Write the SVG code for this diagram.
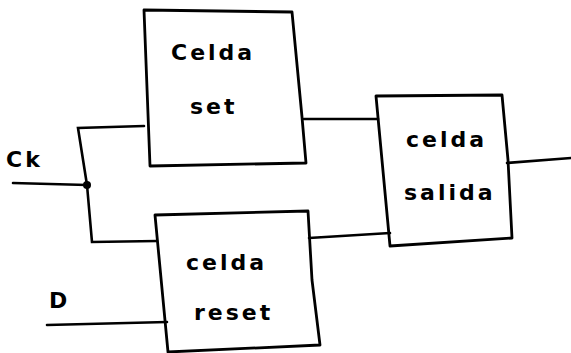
<svg xmlns="http://www.w3.org/2000/svg" width="571" height="353" viewBox="0 0 571 353">
  <style>
    .box { fill: none; stroke: #000; stroke-width: 2.8; stroke-linejoin: round; stroke-linecap: round; }
    .wire { fill: none; stroke: #000; stroke-width: 2.6; stroke-linecap: round; }
    .lbl { font-family: "DejaVu Sans", "Liberation Sans", sans-serif; font-size: 22px; font-weight: bold; fill: #000; letter-spacing: 3px; }
  </style>
  <rect width="571" height="353" fill="#fff"/>

  <g id="connectors">
    <!-- Ck input to the branch point -->
    <path class="wire" d="M13 183 L87 185"/>
    <circle cx="87" cy="185" r="4" fill="#000"/>
    <!-- branch up to celda set -->
    <path class="wire" d="M87 185 L78 128 L144 126"/>
    <!-- branch down to celda reset -->
    <path class="wire" d="M87 185 L92 242 L157 241"/>
    <!-- D input -->
    <path class="wire" d="M47 325 L167 322"/>
    <!-- set output to salida -->
    <path class="wire" d="M304 119 L378 119"/>
    <!-- reset output to salida -->
    <path class="wire" d="M309 238 L390 233"/>
    <!-- salida output -->
    <path class="wire" d="M507 163 L571 158"/>
  </g>

  <g id="celda-set">
    <path class="box" d="M144 10 L292 12 L302 117 L306 163 L150 166 Z"/>
    <text class="lbl" x="171" y="60">Celda</text>
    <text class="lbl" x="190" y="114">set</text>
  </g>

  <g id="celda-reset">
    <path class="box" d="M155 215 L308 211 L312 280 L320 345 L168 352 Z"/>
    <text class="lbl" x="186" y="270">celda</text>
    <text class="lbl" x="194" y="320">reset</text>
  </g>

  <g id="celda-salida">
    <path class="box" d="M376 96 L502 95 L508 160 L512 238 L390 246 Z"/>
    <text class="lbl" x="406" y="147">celda</text>
    <text class="lbl" x="404" y="200">salida</text>
  </g>

  <g id="labels">
    <text class="lbl" x="6" y="167">Ck</text>
    <text class="lbl" x="49" y="308">D</text>
  </g>
</svg>
